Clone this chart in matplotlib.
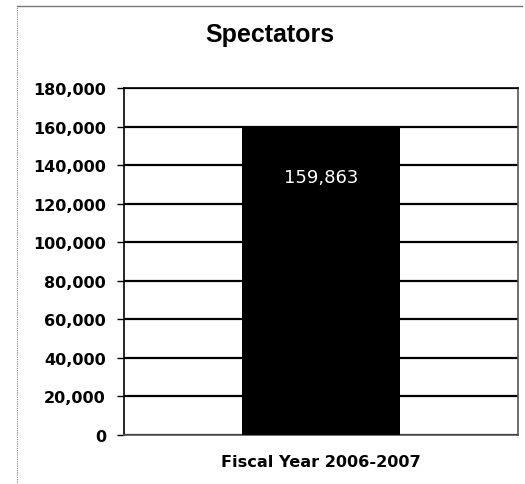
import matplotlib
matplotlib.use("Agg")
import matplotlib.pyplot as plt
from matplotlib.lines import Line2D
from matplotlib.ticker import FuncFormatter

categories = ["Fiscal Year 2006-2007"]
spectators = [159863]
y_ticks = [0, 20000, 40000, 60000, 80000, 100000, 120000, 140000, 160000, 180000]

W, H = 525, 485
fig = plt.figure(figsize=(W / 100, H / 100), dpi=100)
fig.patch.set_facecolor("white")

# chart-area frame: top and left edges
fig.add_artist(Line2D([17 / W, 522 / W], [1 - 7 / H, 1 - 7 / H], transform=fig.transFigure,
                      color="#777777", linewidth=1.0))
fig.add_artist(Line2D([17 / W, 17 / W], [0, 1 - 7 / H], transform=fig.transFigure,
                      color="#888888", linewidth=0.8, linestyle=(0, (1, 1))))

ax = fig.add_axes([124 / W, (H - 436) / H, (518 - 124) / W, (436 - 89) / H])
x = list(range(len(categories)))
bars = ax.bar(x, spectators, width=0.4, color="black", zorder=3)
ax.set_xlim(-0.5, 0.5)
ax.set_ylim(0, 180000)
ax.set_yticks(y_ticks)
ax.yaxis.set_major_formatter(FuncFormatter(lambda v, p: f"{int(v):,}"))
ax.yaxis.grid(True, color="black", linewidth=1.6, zorder=0)
ax.set_axisbelow(True)
ax.set_xticks(x)
ax.set_xticklabels(categories, fontsize=11.6, fontweight="bold", family="DejaVu Sans")
ax.tick_params(axis="x", length=0, pad=14)
ax.tick_params(axis="y", length=5, width=1, pad=8)
for lbl in ax.get_yticklabels():
    lbl.set_fontweight("bold")
    lbl.set_fontsize(11.5)
ax.spines["left"].set_color("black")
ax.spines["top"].set_color("black")
ax.spines["right"].set_color("#555555")
ax.spines["bottom"].set_color("#555555")
for s in ax.spines.values():
    s.set_linewidth(1.2)

for b, v in zip(bars, spectators):
    ax.text(b.get_x() + b.get_width() / 2, v - 26000, f"{v:,}",
            ha="center", va="center", color="white", fontsize=13, zorder=4)

fig.text(270 / W, 1 - 35 / H, "Spectators", ha="center", va="center",
         fontsize=18, fontweight="bold", family="Liberation Sans")

fig.savefig("out.png", dpi=100, facecolor="white")
